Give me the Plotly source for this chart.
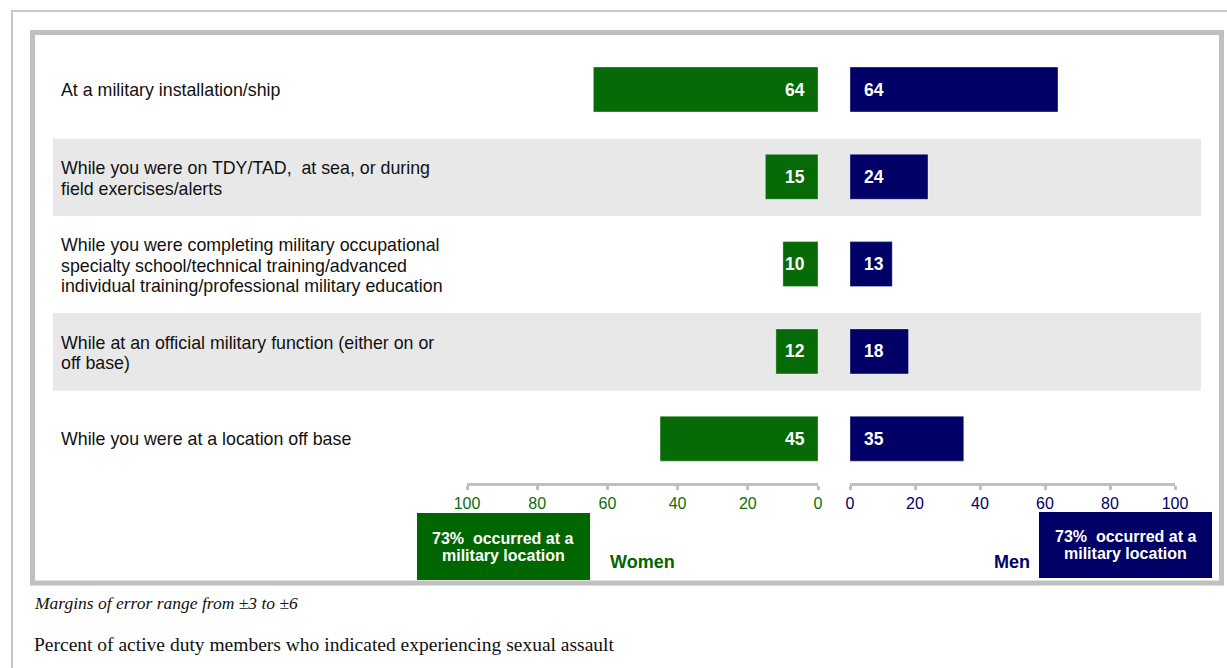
import plotly.graph_objects as go

W, H = 1227, 668

categories = [
    "At a military installation/ship",
    "While you were on TDY/TAD,  at sea, or during<br>field exercises/alerts",
    "While you were completing military occupational<br>specialty school/technical training/advanced<br>individual training/professional military education",
    "While at an official military function (either on or<br>off base)",
    "While you were at a location off base",
]
women = [64, 15, 10, 12, 45]
men = [64, 24, 13, 18, 35]
tick_vals = [0, 20, 40, 60, 80, 100]
tick_text = ["0", "20", "40", "60", "80", "100"]
box_lines = ["73%  occurred at a", "military location"]
footer1 = "Margins of error range from \u00b13 to \u00b16"
footer2 = "Percent of active duty members who indicated experiencing sexual assault"

GREEN_BAR = "#066a06"
GREEN = "#006600"
NAVY = "#000066"
GRAY = "#c0c0c0"
SANS = "Liberation Sans, Arial"
SERIF = "Liberation Serif, Times New Roman"


def px(x):
    return x / W


def py(y):
    return 1 - y / H


rows = list(range(len(categories)))
row0, step = 89.5, 87.3
y_top = -row0 / step
y_bot = (H - row0) / step
line_gap = 20.5 / step  # line spacing of category labels, in row units

fig = go.Figure()
fig.add_trace(go.Bar(
    y=rows, x=women, orientation="h", xaxis="x", yaxis="y",
    marker=dict(color=GREEN_BAR, line=dict(color="rgba(255,255,255,0.35)", width=1)),
    width=0.515, hoverinfo="skip", showlegend=False,
))
fig.add_trace(go.Bar(
    y=rows, x=men, orientation="h", xaxis="x2", yaxis="y",
    marker=dict(color=NAVY, line=dict(color="rgba(255,255,255,0.35)", width=1)),
    width=0.515, hoverinfo="skip", showlegend=False,
))

shapes = []
shapes.append(dict(type="rect", xref="paper", yref="paper",
                   x0=px(12), x1=px(1240), y0=py(11), y1=py(690),
                   line=dict(color="#c8c8c8", width=2), layer="below"))
shapes.append(dict(type="rect", xref="paper", yref="paper",
                   x0=px(32.5), x1=px(1221.5), y0=py(32.5), y1=py(583),
                   line=dict(color=GRAY, width=5), layer="below"))
for i in rows:
    if i % 2 == 1:
        shapes.append(dict(type="rect", xref="paper", yref="y",
                           x0=px(53), x1=px(1201), y0=i - 0.44, y1=i + 0.45,
                           fillcolor="#e8e8e8", line=dict(width=0), layer="below"))
shapes.append(dict(type="rect", xref="paper", yref="paper",
                   x0=px(417), x1=px(590), y0=py(513), y1=py(580),
                   fillcolor=GREEN, line=dict(width=0)))
shapes.append(dict(type="rect", xref="paper", yref="paper",
                   x0=px(1039), x1=px(1212), y0=py(512), y1=py(578),
                   fillcolor=NAVY, line=dict(width=0)))

annotations = []
for i, c in zip(rows, categories):
    lines = c.split("<br>")
    n = len(lines)
    for k, ln in enumerate(lines):
        yy = i + (k - (n - 1) / 2) * line_gap + (0.02 if n > 1 else 0)
        annotations.append(dict(xref="paper", yref="y", x=px(59), y=yy, text=ln,
                                xanchor="left", yanchor="middle", align="left", showarrow=False,
                                font=dict(family=SANS, size=17.8, color="#111111")))
for i, v in zip(rows, women):
    annotations.append(dict(xref="x", yref="y", x=0, y=i, text=str(v), xanchor="right",
                            yanchor="middle", xshift=-11, showarrow=False,
                            font=dict(family=SANS, size=17.5, color="white", weight="bold")))
for i, v in zip(rows, men):
    annotations.append(dict(xref="x2", yref="y", x=0, y=i, text=str(v), xanchor="left",
                            yanchor="middle", xshift=12, showarrow=False,
                            font=dict(family=SANS, size=17.5, color="white", weight="bold")))
for cx, cy in [(503.5, 546.5), (1125.5, 545)]:
    for k, ln in enumerate(box_lines):
        annotations.append(dict(xref="paper", yref="paper", x=px(cx), y=py(cy - 8.5 + 17 * k), text=ln,
                                showarrow=False, xanchor="center", yanchor="middle",
                                font=dict(family=SANS, size=16, color="white", weight="bold")))
annotations.append(dict(xref="paper", yref="paper", x=px(608), y=py(562), text="Women",
                        showarrow=False, xanchor="left", yanchor="middle",
                        font=dict(family=SANS, size=18, color=GREEN, weight="bold")))
annotations.append(dict(xref="paper", yref="paper", x=px(1032), y=py(562), text="Men",
                        showarrow=False, xanchor="right", yanchor="middle",
                        font=dict(family=SANS, size=18, color=NAVY, weight="bold")))
annotations.append(dict(xref="paper", yref="paper", x=px(32), y=py(603), text="<i>" + footer1 + "</i>",
                        showarrow=False, xanchor="left", yanchor="middle",
                        font=dict(family=SERIF, size=17.5, color="#111111")))
annotations.append(dict(xref="paper", yref="paper", x=px(32), y=py(644), text=footer2,
                        showarrow=False, xanchor="left", yanchor="middle",
                        font=dict(family=SERIF, size=19.5, color="#111111")))

axis_common = dict(
    showgrid=False, zeroline=False, showline=True, linecolor=GRAY, linewidth=3,
    ticks="outside", ticklen=4, tickwidth=3, tickcolor=GRAY,
    tickvals=tick_vals, ticktext=tick_text, anchor="free", position=py(483.5),
    automargin=False, fixedrange=True,
)

fig.update_layout(
    width=W, height=H,
    margin=dict(l=0, r=0, t=0, b=0),
    paper_bgcolor="white", plot_bgcolor="rgba(0,0,0,0)",
    barmode="overlay",
    xaxis=dict(domain=[px(467), px(818)], range=[100, 0],
               tickfont=dict(family=SANS, size=16, color="#0b6e0b"), **axis_common),
    xaxis2=dict(domain=[px(850), px(1175)], range=[0, 100],
                tickfont=dict(family=SANS, size=16, color=NAVY), **axis_common),
    yaxis=dict(range=[y_bot, y_top], visible=False, domain=[0, 1], fixedrange=True),
    shapes=shapes, annotations=annotations,
)

fig.write_html("out.html", config={"displayModeBar": False},
               post_script="document.body.style.margin='0';document.body.style.overflow='hidden';")
